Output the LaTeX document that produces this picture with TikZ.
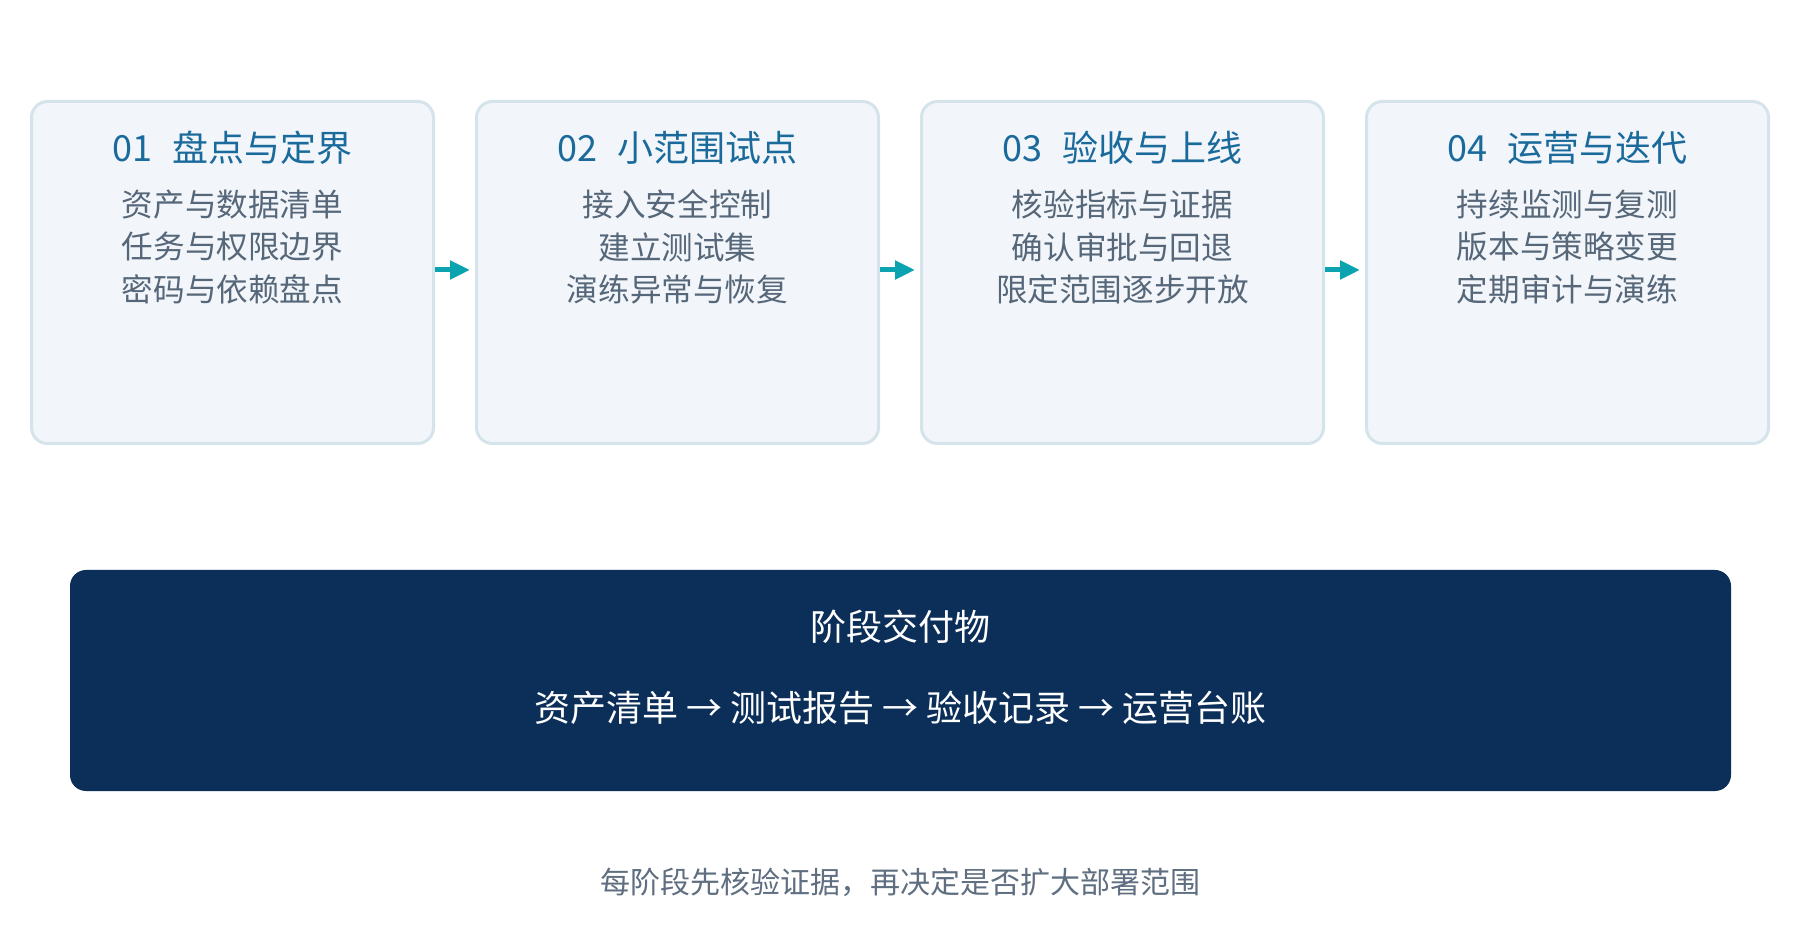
\documentclass[tikz,border=0pt]{standalone}
\usepackage{fontspec}
\setmainfont{Noto Sans CJK SC}
\usetikzlibrary{positioning,arrows.meta}

\definecolor{boxfill}{HTML}{F2F6FA}
\definecolor{boxline}{HTML}{D5E3EA}
\definecolor{titleblue}{HTML}{1B6A9C}
\definecolor{bodygray}{HTML}{566779}
\definecolor{flowteal}{HTML}{0AA3AF}
\definecolor{navy}{HTML}{0C2F5A}
\definecolor{notegray}{HTML}{5F6E80}

\tikzset{
  stagebox/.style={draw=boxline, fill=boxfill, line width=1.5pt, rounded corners=8pt,
    minimum width=201pt, minimum height=171pt, inner sep=0pt},
  stagetitle/.style={text=titleblue, font=\fontsize{18}{22}\selectfont, inner sep=0pt},
  stagebody/.style={text=bodygray, font=\fontsize{15.8}{21.25}\selectfont, align=center, inner sep=0pt},
  flowarrow/.style={draw=flowteal, line width=2.5pt, -{Triangle[length=10pt,width=9pt]}, shorten >=2.5pt},
  outbox/.style={fill=navy, rounded corners=8pt, minimum width=830.5pt, minimum height=110.5pt, inner sep=0pt},
  outtext/.style={text=white, font=\fontsize{18}{22}\selectfont, inner sep=0pt},
  notetext/.style={text=notegray, font=\fontsize{15}{18}\selectfont, inner sep=0pt}
}

\begin{document}
\begin{tikzpicture}[x=0.5pt, y=-0.5pt]
\useasboundingbox[fill=white] (0,0) rectangle (1800,940);

% stages
\node[stagebox] (s1) at (232.5, 272.5) {};
\node[stagebox] (s2) at (677.5, 272.5) {};
\node[stagebox] (s3) at (1122.5, 272.5) {};
\node[stagebox] (s4) at (1567.5, 272.5) {};

\node[stagetitle] (t1) at ([yshift=-24pt]s1.north) {01\hspace{0.55em}盘点与定界};
\node[stagetitle] (t2) at ([yshift=-24pt]s2.north) {02\hspace{0.55em}小范围试点};
\node[stagetitle] (t3) at ([yshift=-24pt]s3.north) {03\hspace{0.55em}验收与上线};
\node[stagetitle] (t4) at ([yshift=-24pt]s4.north) {04\hspace{0.55em}运营与迭代};

\node[stagebody] (b1) at ([yshift=-73.5pt]s1.north) {资产与数据清单\\任务与权限边界\\密码与依赖盘点};
\node[stagebody] (b2) at ([yshift=-73.5pt]s2.north) {接入安全控制\\建立测试集\\演练异常与恢复};
\node[stagebody] (b3) at ([yshift=-73.5pt]s3.north) {核验指标与证据\\确认审批与回退\\限定范围逐步开放};
\node[stagebody] (b4) at ([yshift=-73.5pt]s4.north) {持续监测与复测\\版本与策略变更\\定期审计与演练};

\draw[flowarrow] ([yshift=1.25pt]s1.east) -- ([yshift=1.25pt]s2.west);
\draw[flowarrow] ([yshift=1.25pt]s2.east) -- ([yshift=1.25pt]s3.west);
\draw[flowarrow] ([yshift=1.25pt]s3.east) -- ([yshift=1.25pt]s4.west);

% deliverables
\node[outbox] (out) at (900.5, 680.5) {};
\node[outtext] (outtitle) at (900.5, 627) {阶段交付物};
\node[outtext] (outflow) at (900.5, 708) {资产清单 → 测试报告 → 验收记录 → 运营台账};

\node[notetext] (note) at (900, 882) {每阶段先核验证据，再决定是否扩大部署范围};
\end{tikzpicture}
\end{document}
